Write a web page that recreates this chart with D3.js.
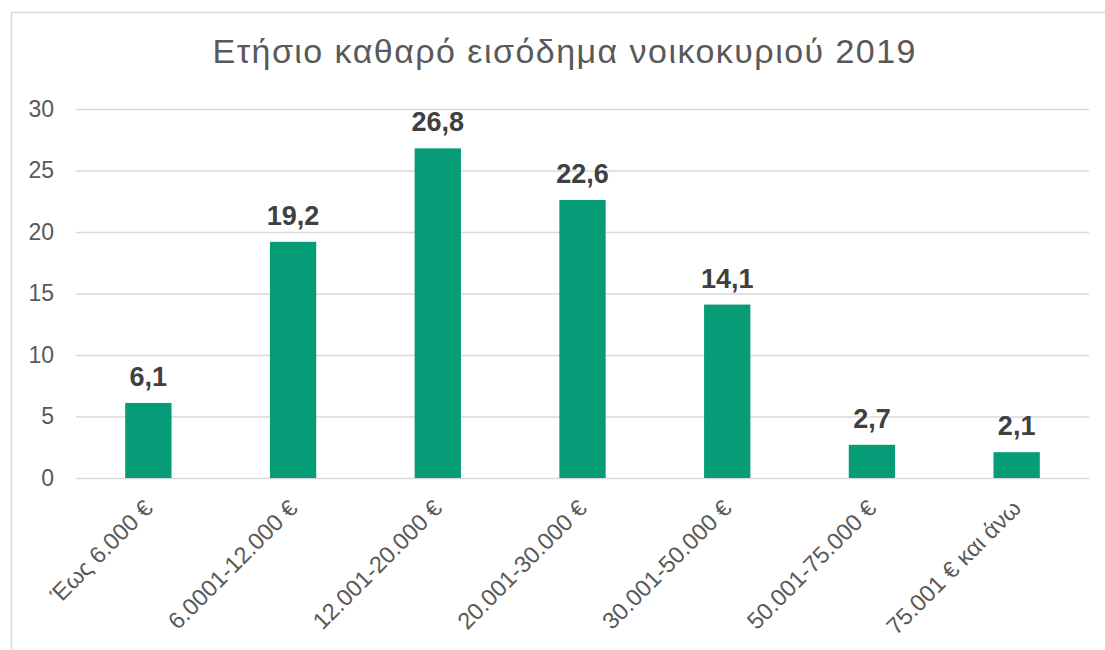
<!DOCTYPE html>
<html>
<head>
<meta charset="utf-8">
<script src="https://cdn.jsdelivr.net/npm/d3@7"></script>
<style>
  body { margin: 0; background: #fff; }
  svg { display: block; font-family: "Liberation Sans", Arial, sans-serif; }
</style>
</head>
<body>
<svg id="chart"></svg>
<script>
// data
const categories = ['Έως 6.000 €', '6.0001-12.000 €', '12.001-20.000 €', '20.001-30.000 €',
    '30.001-50.000 €', '50.001-75.000 €', '75.001 € και άνω'];
const values = [6.1, 19.2, 26.8, 22.6, 14.1, 2.7, 2.1];
const yTicks = [0, 5, 10, 15, 20, 25, 30];
const title = 'Ετήσιο καθαρό εισόδημα νοικοκυριού 2019';

const width = 1105, height = 650;
const margin = { top: 109, right: 16, bottom: 172, left: 76 };

const svg = d3.select('#chart')
    .attr('width', width)
    .attr('height', height);

// chart frame (runs off the right and bottom edge in the reference)
svg.append('rect')
    .attr('x', 11.5).attr('y', 12.5)
    .attr('width', 1200).attr('height', 800)
    .attr('fill', 'none')
    .attr('stroke', '#d9d9d9')
    .attr('stroke-width', 1.5);

const x = d3.scaleBand()
    .domain(categories)
    .range([margin.left, width - margin.right])
    .paddingInner(0.68)
    .paddingOuter(0.34);

const y = d3.scaleLinear()
    .domain([0, 30])
    .range([height - margin.bottom, margin.top]);

// gridlines + tick labels
const yAxis = svg.append('g')
    .attr('transform', `translate(${margin.left},0)`)
    .call(d3.axisLeft(y).tickValues(yTicks).tickSize(-(width - margin.left - margin.right)).tickPadding(22));
yAxis.select('.domain').remove();
yAxis.selectAll('.tick line').attr('stroke', '#d9d9d9').attr('stroke-width', 1.5);
yAxis.selectAll('.tick text')
    .attr('fill', '#595959')
    .style('font-size', '23px');

// bars
svg.append('g')
    .selectAll('rect')
    .data(values)
    .join('rect')
    .attr('x', (d, i) => x(categories[i]))
    .attr('y', d => y(d))
    .attr('width', x.bandwidth())
    .attr('height', d => y(0) - y(d))
    .attr('fill', '#079c78');

// data labels
svg.append('g')
    .selectAll('text')
    .data(values)
    .join('text')
    .attr('x', (d, i) => x(categories[i]) + x.bandwidth() / 2)
    .attr('y', d => y(d) - 17)
    .attr('text-anchor', 'middle')
    .attr('fill', '#404040')
    .style('font-size', '27px')
    .style('font-weight', 'bold')
    .text(d => d3.format('.1f')(d).replace('.', ','));

// category labels, rotated
svg.append('g')
    .selectAll('text')
    .data(categories)
    .join('text')
    .attr('transform', d => `translate(${x(d) + x.bandwidth() / 2},${y(0) + 26}) rotate(-45)`)
    .attr('text-anchor', 'end')
    .attr('dy', '0.35em')
    .attr('fill', '#595959')
    .style('font-size', '23.5px')
    .text(d => d);

// title
svg.append('text')
    .attr('x', 564)
    .attr('y', 63)
    .attr('text-anchor', 'middle')
    .attr('fill', '#595959')
    .attr('textLength', 703)
    .attr('lengthAdjust', 'spacing')
    .style('font-size', '34px')
    .text(title);
</script>
</body>
</html>
